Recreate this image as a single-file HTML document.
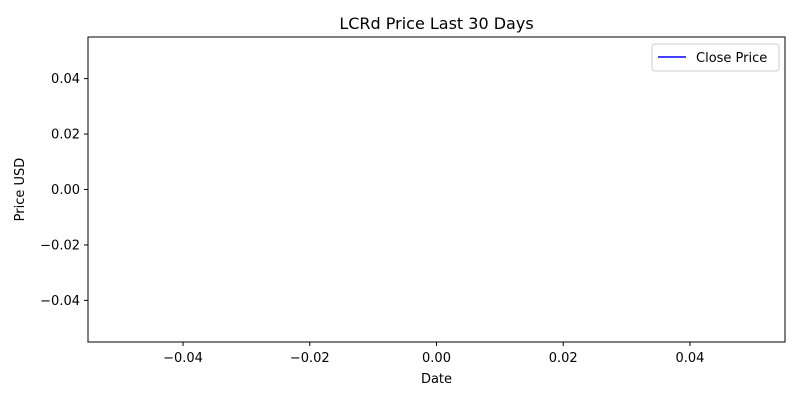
<!DOCTYPE html>
<html><head><meta charset="utf-8"><style>
body{margin:0;background:#fff;font-family:"DejaVu Sans","Liberation Sans",sans-serif;}
svg text{font-family:"DejaVu Sans","Liberation Sans",sans-serif;fill:#000;}
</style></head><body>
<svg id="chart" width="800" height="400" viewBox="0 0 800 400" xmlns="http://www.w3.org/2000/svg">
<rect width="800" height="400" fill="#fff"/>
<text x="436.5" y="29" font-size="16" text-anchor="middle">LCRd Price Last 30 Days</text>
<g id="axes"></g>
<rect x="88" y="37" width="697" height="305" fill="none" stroke="#000" stroke-width="1"/>
<text x="436.5" y="383" font-size="13" text-anchor="middle">Date</text>
<text transform="translate(24,189.5) rotate(-90)" font-size="13" text-anchor="middle">Price USD</text>
<g>
<rect x="652" y="44" width="127" height="27" rx="3" fill="#fff" stroke="#ccc"/>
<line x1="658" y1="57" x2="686" y2="57" stroke="#0000ff" stroke-width="1.5"/>
<text x="696" y="62" font-size="13">Close Price</text>
</g>
</svg>
<script>
const xTicks=[-0.04,-0.02,0,0.02,0.04];
const yTicks=[-0.04,-0.02,0,0.02,0.04];
const closeDates=[];
const closePrices=[];
const L=88,R=785,T=37,B=342,dmin=-0.055,dmax=0.055;
const xs=v=>L+(v-dmin)/(dmax-dmin)*(R-L);
const ys=v=>B-(v-dmin)/(dmax-dmin)*(B-T);
const g=document.getElementById('axes');
const NS='http://www.w3.org/2000/svg';
const fmt=v=>(v<0?'\u2212':'')+Math.abs(v).toFixed(2);
xTicks.forEach(v=>{
 const l=document.createElementNS(NS,'line');
 
 
 l.setAttribute('x1',xs(v));l.setAttribute('x2',xs(v));l.setAttribute('y1',B);l.setAttribute('y2',B+4);l.setAttribute('stroke','#000');
 g.appendChild(l);
 const t=document.createElementNS(NS,'text');
 
 
 t.setAttribute('x',xs(v));t.setAttribute('y',B+20);t.setAttribute('font-size','13');t.setAttribute('text-anchor','middle');
 t.textContent=fmt(v);g.appendChild(t);
});
yTicks.forEach(v=>{
 const l=document.createElementNS(NS,'line');
 
 
 l.setAttribute('x1',L-4);l.setAttribute('x2',L);l.setAttribute('y1',ys(v));l.setAttribute('y2',ys(v));l.setAttribute('stroke','#000');
 g.appendChild(l);
 const t=document.createElementNS(NS,'text');
 
 
 t.setAttribute('x',L-8);t.setAttribute('y',ys(v)+4.5);t.setAttribute('font-size','13');t.setAttribute('text-anchor','end');
 t.textContent=fmt(v);g.appendChild(t);
});
if(closePrices.length){
 const p=document.createElementNS(NS,'polyline');
 
 
 p.setAttribute('points',closePrices.map((v,i)=>xs(closeDates[i])+','+ys(v)).join(' '));
 p.setAttribute('fill','none');p.setAttribute('stroke','#0000ff');p.setAttribute('stroke-width','1.5');
 g.appendChild(p);
}
</script>
</body></html>
